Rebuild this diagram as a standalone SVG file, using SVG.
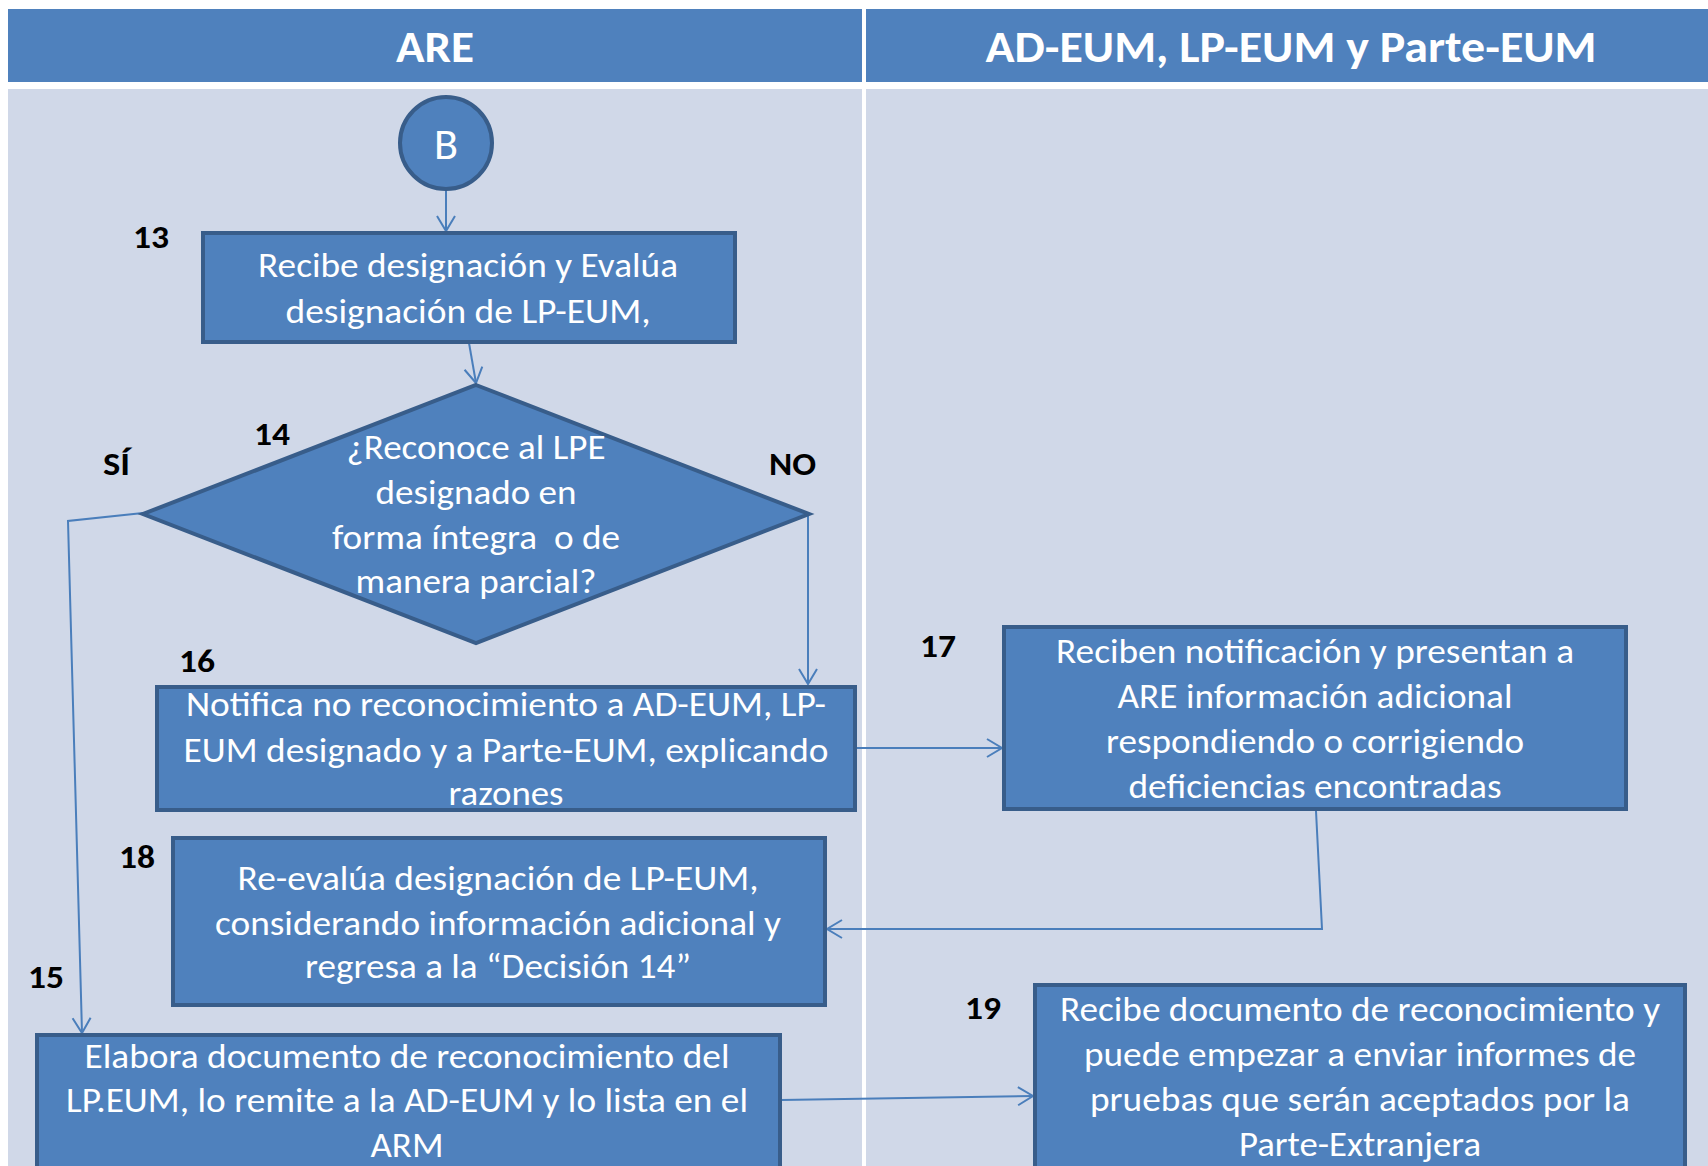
<svg xmlns="http://www.w3.org/2000/svg" width="1708" height="1166" viewBox="0 0 1708 1166">
<defs>
<style>
.hdr{fill:#4f81bd}
.lane{fill:#d0d8e8}
.box{fill:#4f81bd;stroke:#385d8a;stroke-width:4}
.ht{font-family:Carlito,'Liberation Sans Narrow','Liberation Sans',sans-serif;font-weight:bold;font-size:44px;fill:#fff;text-anchor:middle}
.t{font-family:Carlito,'Liberation Sans Narrow','Liberation Sans',sans-serif;font-size:34px;fill:#fff;text-anchor:middle}
.n{font-family:Carlito,'Liberation Sans Narrow','Liberation Sans',sans-serif;font-weight:bold;font-size:32px;fill:#000}
.c{fill:none;stroke:#4a7ebb;stroke-width:2}
</style>
<marker id="arr" markerUnits="userSpaceOnUse" markerWidth="22" markerHeight="22" viewBox="0 0 22 22" refX="17" refY="11" orient="auto">
<path d="M2,2 L17,11 L2,20" fill="none" stroke="#4a7ebb" stroke-width="2"/>
</marker>
</defs>
<rect width="1708" height="1166" fill="#fff"/>
<g id="lanes">
<rect class="hdr" x="8" y="9" width="854" height="73"/>
<rect class="hdr" x="866" y="9" width="842" height="73"/>
<rect class="lane" x="8" y="89" width="854" height="1077"/>
<rect class="lane" x="866" y="89" width="842" height="1077"/>
<text class="ht" x="435" y="62" textLength="78" lengthAdjust="spacingAndGlyphs">ARE</text>
<text class="ht" x="1291" y="62" textLength="611" lengthAdjust="spacingAndGlyphs">AD-EUM, LP-EUM y Parte-EUM</text>
</g>
<g id="connectors">
<path class="c" d="M446,191 L446,231" marker-end="url(#arr)"/>
<path class="c" d="M469,343 L476,383" marker-end="url(#arr)"/>
<path class="c" d="M143,513 L68,521 L82,1033" marker-end="url(#arr)"/>
<path class="c" d="M808,513 L808,684" marker-end="url(#arr)"/>
<path class="c" d="M856,748 L1002,748" marker-end="url(#arr)"/>
<path class="c" d="M1316,811 L1322,929 L827,929" marker-end="url(#arr)"/>
<path class="c" d="M781,1100 L1033,1096" marker-end="url(#arr)"/>
</g>
<g id="node-B">
<circle cx="446" cy="143" r="46" fill="#4f81bd" stroke="#385d8a" stroke-width="4"/>
<text class="t" x="446" y="159" style="font-size:44px" textLength="24" lengthAdjust="spacingAndGlyphs">B</text>
</g>
<g id="node-13">
<rect class="box" x="203" y="233" width="532" height="109"/>
<text class="n" x="133" y="248" textLength="36" lengthAdjust="spacingAndGlyphs">13</text>
<text class="t" x="468" y="277" textLength="420" lengthAdjust="spacingAndGlyphs">Recibe designación y Evalúa</text>
<text class="t" x="468" y="323" textLength="365" lengthAdjust="spacingAndGlyphs">designación de LP-EUM,</text>
</g>
<g id="node-14">
<polygon points="476,385 809,514 476,643 143,514" fill="#4f81bd" stroke="#385d8a" stroke-width="4"/>
<text class="n" x="254" y="445" textLength="36" lengthAdjust="spacingAndGlyphs">14</text>
<text class="n" x="103" y="475" textLength="27" lengthAdjust="spacingAndGlyphs">SÍ</text>
<text class="n" x="769" y="475" textLength="47" lengthAdjust="spacingAndGlyphs">NO</text>
<text class="t" x="476" y="459" textLength="259" lengthAdjust="spacingAndGlyphs">¿Reconoce al LPE</text>
<text class="t" x="476" y="504" textLength="201" lengthAdjust="spacingAndGlyphs">designado en</text>
<text class="t" x="476" y="549" textLength="288" lengthAdjust="spacingAndGlyphs" xml:space="preserve">forma íntegra  o de</text>
<text class="t" x="476" y="593" textLength="241" lengthAdjust="spacingAndGlyphs">manera parcial?</text>
</g>
<g id="node-16">
<rect class="box" x="157" y="687" width="698" height="123"/>
<text class="n" x="179" y="672" textLength="36" lengthAdjust="spacingAndGlyphs">16</text>
<text class="t" x="506" y="716" textLength="640" lengthAdjust="spacingAndGlyphs">Notifica no reconocimiento a AD-EUM, LP-</text>
<text class="t" x="506" y="762" textLength="645" lengthAdjust="spacingAndGlyphs">EUM designado y a Parte-EUM, explicando</text>
<text class="t" x="506" y="805" textLength="115" lengthAdjust="spacingAndGlyphs">razones</text>
</g>
<g id="node-17">
<rect class="box" x="1004" y="627" width="622" height="182"/>
<text class="n" x="920" y="657" textLength="36" lengthAdjust="spacingAndGlyphs">17</text>
<text class="t" x="1315" y="663" textLength="518" lengthAdjust="spacingAndGlyphs">Reciben notificación y presentan a</text>
<text class="t" x="1315" y="708" textLength="395" lengthAdjust="spacingAndGlyphs">ARE información adicional</text>
<text class="t" x="1315" y="753" textLength="418" lengthAdjust="spacingAndGlyphs">respondiendo o corrigiendo</text>
<text class="t" x="1315" y="798" textLength="373" lengthAdjust="spacingAndGlyphs">deficiencias encontradas</text>
</g>
<g id="node-18">
<rect class="box" x="173" y="838" width="652" height="167"/>
<text class="n" x="119" y="868" textLength="36" lengthAdjust="spacingAndGlyphs">18</text>
<text class="t" x="498" y="890" textLength="521" lengthAdjust="spacingAndGlyphs">Re-evalúa designación de LP-EUM,</text>
<text class="t" x="498" y="935" textLength="566" lengthAdjust="spacingAndGlyphs">considerando información adicional y</text>
<text class="t" x="498" y="978" textLength="386" lengthAdjust="spacingAndGlyphs">regresa a la “Decisión 14”</text>
</g>
<g id="node-15">
<rect class="box" x="37" y="1035" width="743" height="150"/>
<text class="n" x="28" y="988" textLength="36" lengthAdjust="spacingAndGlyphs">15</text>
<text class="t" x="407" y="1068" textLength="645" lengthAdjust="spacingAndGlyphs">Elabora documento de reconocimiento del</text>
<text class="t" x="407" y="1112" textLength="682" lengthAdjust="spacingAndGlyphs">LP.EUM, lo remite a la AD-EUM y lo lista en el</text>
<text class="t" x="407" y="1157" textLength="73" lengthAdjust="spacingAndGlyphs">ARM</text>
</g>
<g id="node-19">
<rect class="box" x="1035" y="985" width="650" height="200"/>
<text class="n" x="965" y="1019" textLength="36" lengthAdjust="spacingAndGlyphs">19</text>
<text class="t" x="1360" y="1021" textLength="600" lengthAdjust="spacingAndGlyphs">Recibe documento de reconocimiento y</text>
<text class="t" x="1360" y="1066" textLength="552" lengthAdjust="spacingAndGlyphs">puede empezar a enviar informes de</text>
<text class="t" x="1360" y="1111" textLength="540" lengthAdjust="spacingAndGlyphs">pruebas que serán aceptados por la</text>
<text class="t" x="1360" y="1156" textLength="242" lengthAdjust="spacingAndGlyphs">Parte-Extranjera</text>
</g>
</svg>
